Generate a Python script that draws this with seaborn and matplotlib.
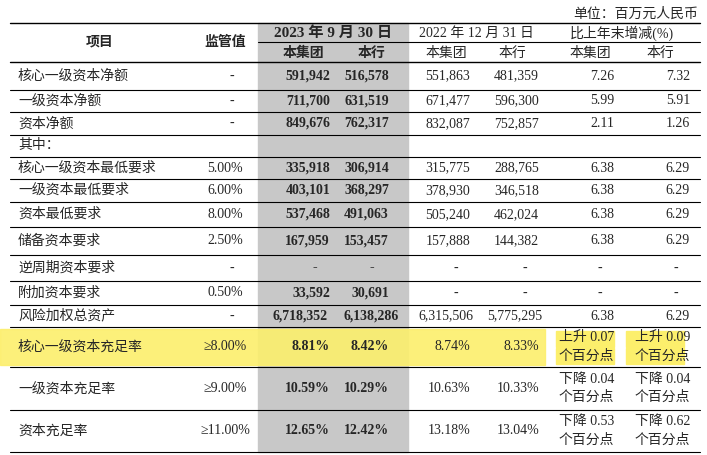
import matplotlib
matplotlib.use("Agg")
import matplotlib.pyplot as plt
import seaborn as sns
from matplotlib.patches import Rectangle

sns.set_theme(style="white")
plt.rcParams['font.family'] = ['Liberation Serif', 'Noto Sans CJK SC', 'DejaVu Sans']

items = ["核心一级资本净额", "一级资本净额", "资本净额", "其中：", "核心一级资本最低要求",
         "一级资本最低要求", "资本最低要求", "储备资本要求", "逆周期资本要求", "附加资本要求",
         "风险加权总资产", "核心一级资本充足率", "一级资本充足率", "资本充足率"]
reg = ["-", "-", "-", "", "5.00%", "6.00%", "8.00%", "2.50%", "-", "0.50%", "-",
       "≥8.00%", "≥9.00%", "≥11.00%"]
grp_2023 = ["591,942", "711,700", "849,676", "", "335,918", "403,101", "537,468", "167,959",
            "-", "33,592", "6,718,352", "8.81%", "10.59%", "12.65%"]
bank_2023 = ["516,578", "631,519", "762,317", "", "306,914", "368,297", "491,063", "153,457",
             "-", "30,691", "6,138,286", "8.42%", "10.29%", "12.42%"]
grp_2022 = ["551,863", "671,477", "832,087", "", "315,775", "378,930", "505,240", "157,888",
            "-", "-", "6,315,506", "8.74%", "10.63%", "13.18%"]
bank_2022 = ["481,359", "596,300", "752,857", "", "288,765", "346,518", "462,024", "144,382",
             "-", "-", "5,775,295", "8.33%", "10.33%", "13.04%"]
chg_grp = ["7.26", "5.99", "2.11", "", "6.38", "6.38", "6.38", "6.38", "-", "-", "6.38",
           "上升 0.07\n个百分点", "下降 0.04\n个百分点", "下降 0.53\n个百分点"]
chg_bank = ["7.32", "5.91", "1.26", "", "6.29", "6.29", "6.29", "6.29", "-", "-", "6.29",
            "上升 0.09\n个百分点", "下降 0.04\n个百分点", "下降 0.62\n个百分点"]

# row boundaries in pixels
bounds = [62, 90, 112, 135, 157, 179, 202, 227, 255, 281, 305, 327, 367, 410, 452]

fig = plt.figure(figsize=(7.07, 4.55), dpi=100)
ax = fig.add_axes([0, 0, 1, 1])
ax.set_xlim(0, 707)
ax.set_ylim(455, 0)
ax.axis("off")

grey = "#c8c8c8"
yellow = "#fcef6c"
ax.add_patch(Rectangle((258, 23), 150, 452 - 23, color=grey, zorder=0))
ax.add_patch(Rectangle((0, 329), 545, 36, color=yellow, zorder=0.5, alpha=0.9))
for x0 in (556, 626):
    ax.add_patch(Rectangle((x0, 331), 58, 16, color=yellow, zorder=0.5))
    ax.add_patch(Rectangle((x0, 348), 58, 16, color=yellow, zorder=0.5))

fs = 10
ax.text(698, 14, "单位：百万元人民币", ha="right", va="center", fontsize=fs)
ax.plot([10, 700], [23, 23], color="black", lw=1)
ax.plot([258, 700], [42, 42], color="black", lw=0.8)
ax.plot([10, 700], [62, 62], color="black", lw=1)
ax.text(100, 42, "项目", ha="center", va="center", fontsize=fs, fontweight="bold")
ax.text(225, 42, "监管值", ha="center", va="center", fontsize=fs, fontweight="bold")
ax.text(333, 33, "2023 年 9 月 30 日", ha="center", va="center", fontsize=fs + 1, fontweight="bold")
ax.text(303, 53, "本集团", ha="center", va="center", fontsize=fs, fontweight="bold")
ax.text(372, 53, "本行", ha="center", va="center", fontsize=fs, fontweight="bold")
ax.text(476, 33, "2022 年 12 月 31 日", ha="center", va="center", fontsize=fs)
ax.text(446, 53, "本集团", ha="center", va="center", fontsize=fs)
ax.text(512, 53, "本行", ha="center", va="center", fontsize=fs)
ax.text(622, 33, "比上年末增减(%)", ha="center", va="center", fontsize=fs)
ax.text(590, 53, "本集团", ha="center", va="center", fontsize=fs)
ax.text(660, 53, "本行", ha="center", va="center", fontsize=fs)

for i, name in enumerate(items):
    top, bot = bounds[i], bounds[i + 1]
    yc = (top + bot) / 2
    ax.plot([10, 700], [bot, bot], color="black", lw=0.8)
    ax.text(18, yc, name, ha="left", va="center", fontsize=fs)
    ax.text(225 if reg[i] != "-" else 232, yc, reg[i], ha="center", va="center", fontsize=fs)
    dash = grp_2023[i] == "-"
    wide = len(grp_2023[i]) > 8
    ax.text(315 if dash else (328 if wide else 330), yc, grp_2023[i],
            ha="center" if dash else "right", va="center", fontsize=fs, fontweight="bold")
    ax.text(372 if dash else (399 if wide else 389), yc, bank_2023[i],
            ha="center" if dash else "right", va="center", fontsize=fs, fontweight="bold")
    for x, vals in ((470, grp_2022), (539, bank_2022)):
        d = vals[i] == "-"
        xx = x - 14 if d else (x + 3 if len(vals[i]) > 8 else x)
        ax.text(xx, yc, vals[i], ha="center" if d else "right", va="center", fontsize=fs)
    for x, vals in ((614, chg_grp), (690, chg_bank)):
        d = vals[i] == "-"
        ax.text(x - 14 if d else x, yc, vals[i], ha="center" if d else "right", va="center",
                fontsize=fs, linespacing=1.5)

fig.savefig("out.png", dpi=100)
